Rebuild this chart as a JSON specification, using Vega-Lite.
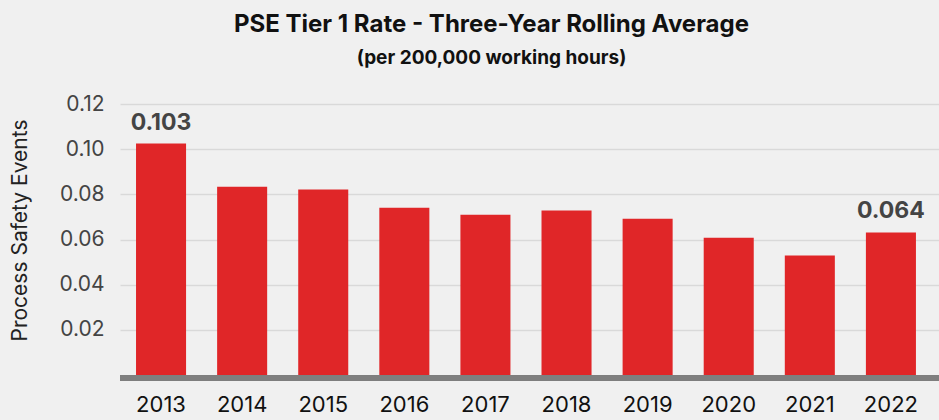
{
  "$schema": "https://vega.github.io/schema/vega-lite/v6.json",
  "width": 819,
  "height": 271,
  "autosize": {"type": "none"},
  "padding": {"left": 120, "top": 104, "right": 0, "bottom": 45},
  "background": "#f0f0f0",
  "title": {
    "text": "PSE Tier 1 Rate - Three-Year Rolling Average",
    "subtitle": "(per 200,000 working hours)",
    "anchor": "middle",
    "dx": -38,
    "font": "Inter",
    "fontSize": 24,
    "fontWeight": "bold",
    "color": "#111111",
    "subtitleFont": "Inter",
    "subtitleFontSize": 19,
    "subtitleFontWeight": "bold",
    "subtitleColor": "#111111",
    "subtitlePadding": 12,
    "offset": 25
  },
  "config": {
    "view": {"stroke": null},
    "font": "Inter"
  },
  "data": {
    "values": [
      {"year": "2013", "rate": 0.1025, "label": "0.103"},
      {"year": "2014", "rate": 0.0834, "label": ""},
      {"year": "2015", "rate": 0.0821, "label": ""},
      {"year": "2016", "rate": 0.0741, "label": ""},
      {"year": "2017", "rate": 0.071, "label": ""},
      {"year": "2018", "rate": 0.0728, "label": ""},
      {"year": "2019", "rate": 0.0692, "label": ""},
      {"year": "2020", "rate": 0.0608, "label": ""},
      {"year": "2021", "rate": 0.0529, "label": ""},
      {"year": "2022", "rate": 0.0631, "label": "0.064"}
    ]
  },
  "encoding": {
    "x": {
      "field": "year",
      "type": "nominal",
      "sort": null,
      "scale": {"paddingInner": 0.383, "paddingOuter": 0.241, "align": 0.41},
      "axis": {
        "title": null,
        "labelAngle": 0,
        "labelFont": "Inter",
        "labelFontSize": 22,
        "labelColor": "#111111",
        "labelPadding": 19,
        "ticks": false,
        "domain": false
      }
    },
    "y": {
      "field": "rate",
      "type": "quantitative",
      "scale": {"domain": [0, 0.12], "nice": false},
      "axis": {
        "title": "Process Safety Events",
        "titleFont": "Inter",
        "titleFontSize": 21,
        "titleFontWeight": "normal",
        "titleColor": "#222222",
        "titlePadding": 28,
        "titleY": 126,
        "values": [0.02, 0.04, 0.06, 0.08, 0.1, 0.12],
        "format": ".2f",
        "labelFont": "Inter",
        "labelFontSize": 21,
        "labelColor": "#444444",
        "labelPadding": 16,
        "ticks": false,
        "domain": false,
        "grid": true,
        "gridColor": "#d9d9d9",
        "gridWidth": 1.5
      }
    }
  },
  "layer": [
    {
      "mark": {"type": "bar", "color": "#e02628"}
    },
    {
      "mark": {"type": "rule", "color": "#7f7f7f", "strokeWidth": 5, "yOffset": 3},
      "encoding": {"y": {"datum": 0}, "x": null}
    },
    {
      "mark": {
        "type": "text",
        "baseline": "bottom",
        "dy": -9,
        "font": "Inter",
        "fontSize": 23,
        "fontWeight": "bold",
        "color": "#444444"
      },
      "encoding": {"text": {"field": "label"}}
    }
  ]
}
